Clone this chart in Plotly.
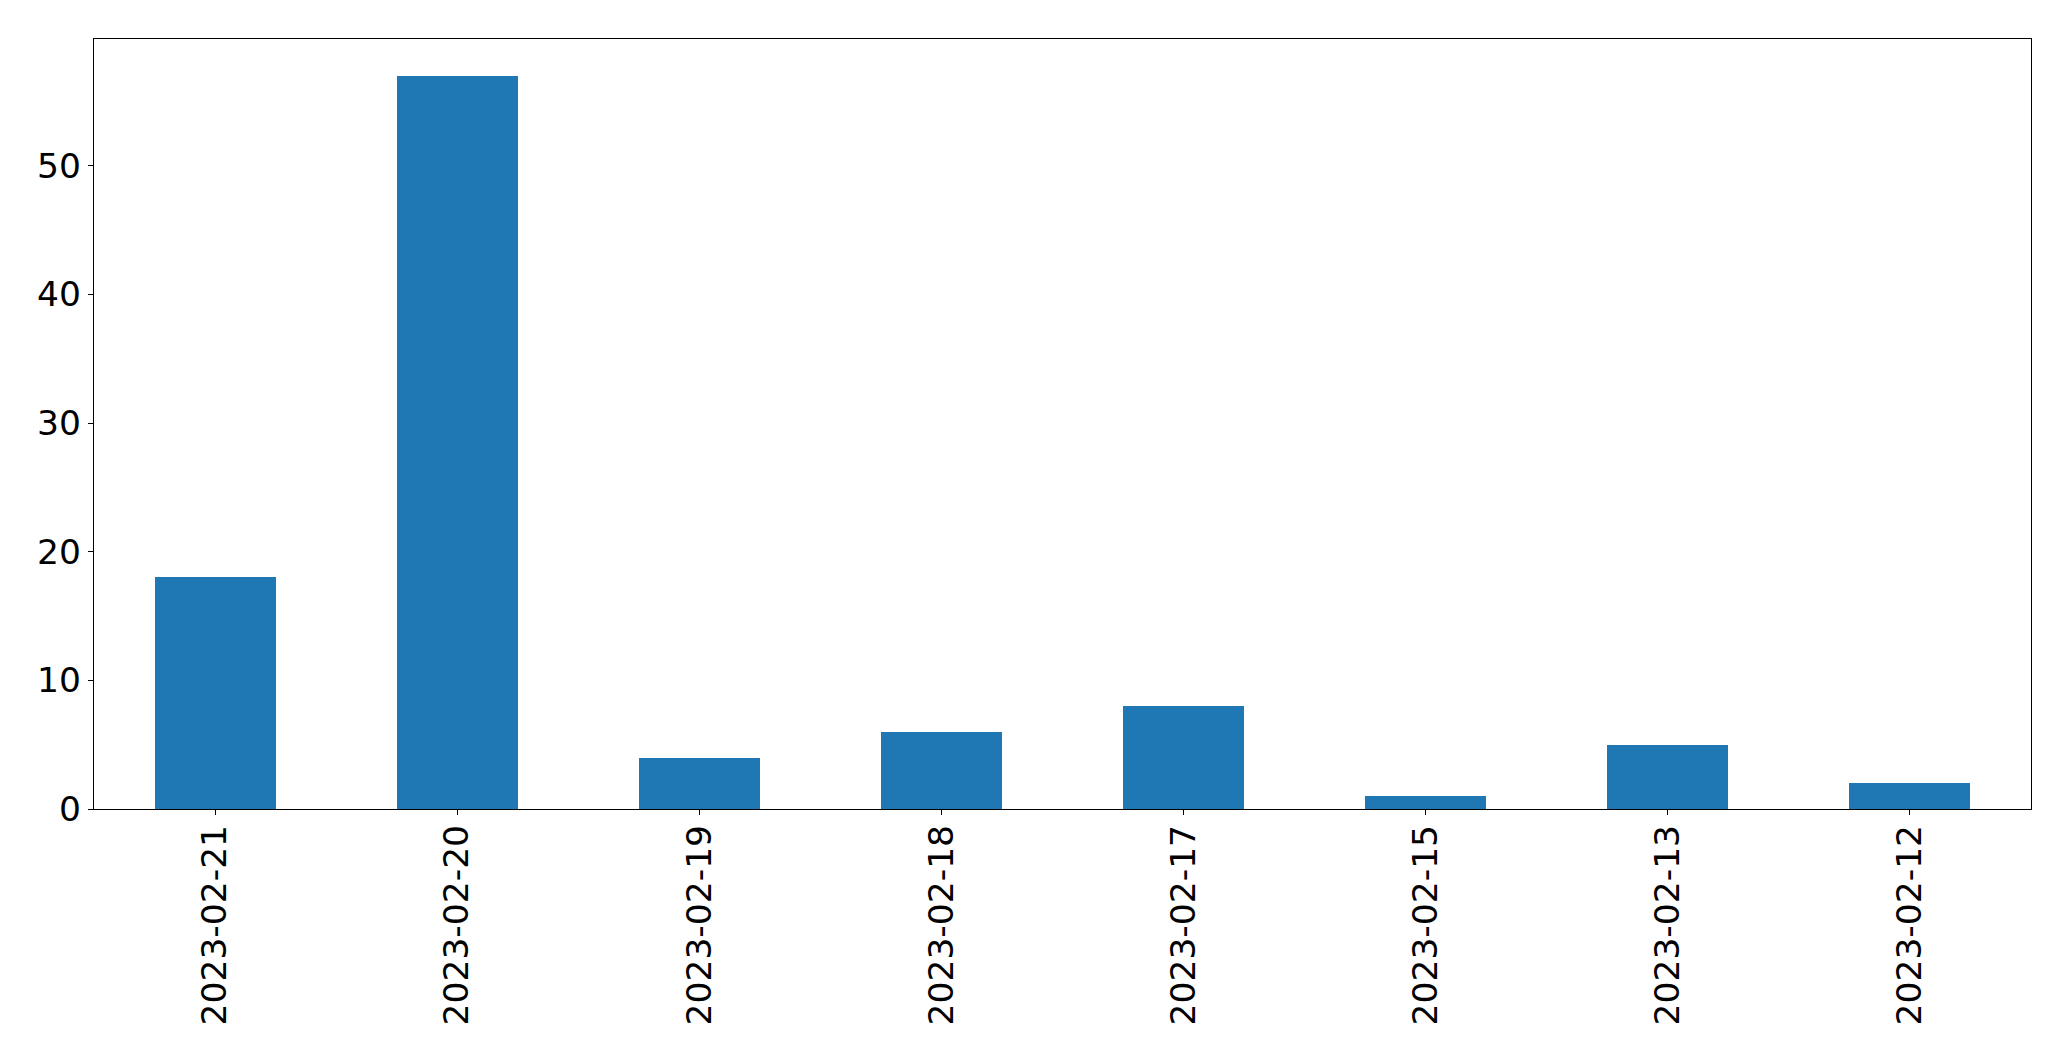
import plotly.graph_objects as go

dates = ["2023-02-21", "2023-02-20", "2023-02-19", "2023-02-18",
         "2023-02-17", "2023-02-15", "2023-02-13", "2023-02-12"]
counts = [18, 57, 4, 6, 8, 1, 5, 2]
y_ticks = [0, 10, 20, 30, 40, 50]

fig = go.Figure(go.Bar(x=dates, y=counts, marker_color="#1f77b4",
                       marker_line_width=0, width=0.5))

axis_common = dict(showline=True, linecolor="black", linewidth=1.3, mirror=True,
                   ticks="outside", ticklen=5, tickwidth=1.3, tickcolor="black",
                   showgrid=False, zeroline=False,
                   tickfont=dict(family="DejaVu Sans", size=34.5, color="black"))

fig.update_xaxes(type="category", range=[-0.5, 7.5], tickangle=-90,
                 ticklabelstandoff=-4, **axis_common)
fig.update_yaxes(range=[0, 59.85], tickvals=y_ticks, **axis_common)

fig.update_layout(width=2063, height=1053, plot_bgcolor="white", paper_bgcolor="white",
                  margin=dict(l=86, r=40, t=31, b=252, autoexpand=False),
                  showlegend=False, bargap=0)

fig.write_html("out.html")
